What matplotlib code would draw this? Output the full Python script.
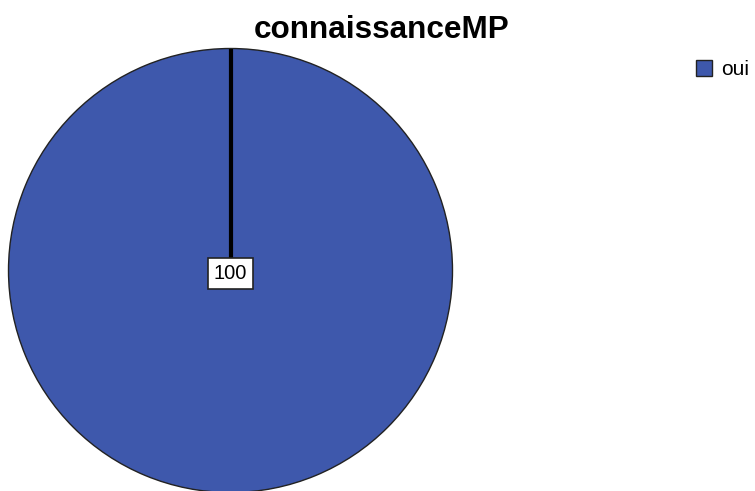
import matplotlib.pyplot as plt
from matplotlib.patches import Rectangle

plt.rcParams['font.family'] = ['Liberation Sans', 'DejaVu Sans']

title = "connaissanceMP"
categories = ["oui"]
percents = [100]
colors = ["#3e58ac"]

fig = plt.figure(figsize=(7.55, 4.91), dpi=100)
# axes in pixel units, origin top-left
ax = fig.add_axes([0, 0, 1, 1])

cx, cy, r = 230.5, 270.5, 222
wedges, _ = ax.pie(percents, colors=colors, startangle=90, counterclock=False,
                   center=(cx, cy), radius=r, frame=True,
                   wedgeprops=dict(edgecolor="#222222", linewidth=1.0))
ax.set_xlim(0, 755)
ax.set_ylim(491, 0)
ax.axis("off")

# boundary line of the single slice
ax.plot([cx, cx], [cy, cy - r], color="black", lw=3, solid_capstyle="butt")

ax.text(cx, cy + 3, f"{percents[0]}", ha="center", va="center", fontsize=14.5,
        bbox=dict(boxstyle="square,pad=0.3", fc="white", ec="#222222", lw=1.2))

ax.text(382, 30, title, ha="center", va="center", fontsize=22.7, fontweight="bold")

# legend
for i, (cat, col) in enumerate(zip(categories, colors)):
    ax.add_patch(Rectangle((696, 60 + i * 22), 16, 16, fc=col, ec="#222222", lw=1))
    ax.text(721, 69 + i * 22, cat, ha="left", va="center", fontsize=15)

fig.savefig("out.png", dpi=100)
